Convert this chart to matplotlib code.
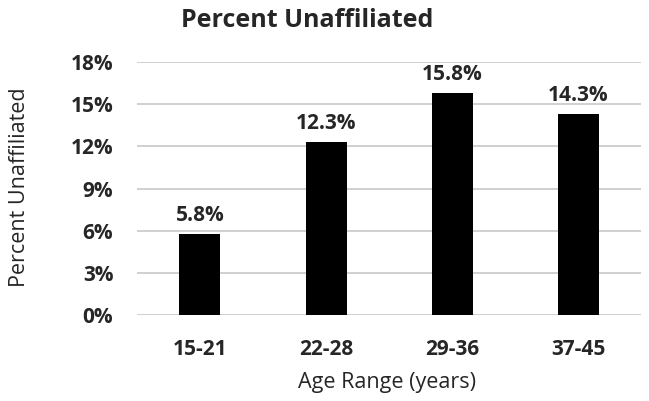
import numpy as np
import matplotlib.pyplot as plt

age_ranges = ["15-21", "22-28", "29-36", "37-45"]
pct_unaffiliated = [5.8, 12.3, 15.8, 14.3]
y_ticks = [0, 3, 6, 9, 12, 15, 18]

plt.rcParams["font.family"] = ["Open Sans", "DejaVu Sans"]
txt_color = "#262626"

fig = plt.figure(figsize=(6.49, 4.01), dpi=100)
ax = fig.add_axes([0.211, 0.2145, 0.777, 0.6305])

x = np.arange(len(age_ranges))
ax.bar(x, pct_unaffiliated, width=0.325, color="black", zorder=3)

# value labels above the bars
for xi, v in zip(x, pct_unaffiliated):
    ax.text(xi, v + 0.55, f"{v:.1f}%", ha="center", va="bottom",
            fontsize=15, fontweight="bold", color=txt_color)

ax.set_xlim(-0.5, len(age_ranges) - 0.5)
ax.set_ylim(0, 18)
ax.set_yticks(y_ticks)
ax.set_yticklabels([f"{t}%" for t in y_ticks])
ax.set_xticks(x)
ax.set_xticklabels(age_ranges)
ax.grid(axis="y", color="#c8c8c8", linewidth=1.2, zorder=0)
ax.tick_params(length=0, labelsize=15, colors=txt_color)
ax.tick_params(axis="x", pad=17)
ax.tick_params(axis="y", pad=17)
for lbl in ax.get_xticklabels() + ax.get_yticklabels():
    lbl.set_fontweight("bold")
for s in ax.spines.values():
    s.set_visible(False)

fig.text(0.597, 0.045, "Age Range (years)", ha="center", va="center",
         fontsize=15.5, color=txt_color)
fig.text(0.03, 0.532, "Percent Unaffiliated", ha="center", va="center",
         rotation=90, fontsize=15.5, color=txt_color)
fig.text(0.474, 0.948, "Percent Unaffiliated", ha="center", va="center",
         fontsize=18, fontweight="bold", color=txt_color)

fig.savefig("out.png", dpi=100)
